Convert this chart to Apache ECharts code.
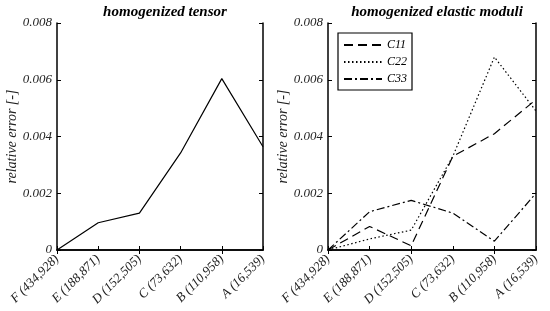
<!DOCTYPE html>
<html>
<head>
<meta charset="utf-8">
<script src="https://cdn.jsdelivr.net/npm/echarts@6/dist/echarts.min.js"></script>
<style>
  html, body { margin: 0; padding: 0; background: #fff; }
  #chart { width: 550px; height: 311px; }
</style>
</head>
<body>
<div id="chart"></div>
<script>
var categories = ['F (434,928)', 'E (188,871)', 'D (152,505)', 'C (73,632)', 'B (110,958)', 'A (16,539)'];
var tensorErr = [0, 0.00096, 0.0013, 0.00342, 0.00604, 0.00364];
var c11 = [0, 0.00083, 0.00015, 0.0033, 0.0041, 0.0053];
var c22 = [0, 0.00039, 0.0007, 0.0033, 0.0068, 0.0049];
var c33 = [0, 0.00135, 0.00175, 0.0013, 0.00031, 0.002];

var font = 'Liberation Serif';

function xAxisFor(grid, top) {
	return {
		type: 'category',
		gridIndex: grid,
		position: top ? 'top' : 'bottom',
		data: categories,
		boundaryGap: false,
		axisLine: { lineStyle: { color: '#000', width: 1.5 } },
		axisTick: { inside: true, length: 4, lineStyle: { color: '#000' } },
		axisLabel: top ? { show: false } : {
			rotate: 45, color: '#222', fontFamily: font, fontStyle: 'italic', fontSize: 13, margin: 7
		},
		splitLine: { show: false }
	};
}
function yAxisFor(grid, right) {
	return {
		type: 'value',
		gridIndex: grid,
		position: right ? 'right' : 'left',
		min: 0, max: 0.008, interval: 0.002,
		name: right ? '' : 'relative error [-]',
		nameLocation: 'middle',
		nameGap: 38,
		nameTextStyle: { fontFamily: font, fontStyle: 'italic', fontSize: 14, color: '#222' },
		axisLine: { show: true, lineStyle: { color: '#000', width: 1.5 } },
		axisTick: { show: true, inside: true, length: 4, lineStyle: { color: '#000' } },
		axisLabel: right ? { show: false } : {
			color: '#222', fontFamily: font, fontStyle: 'italic', fontSize: 13, margin: 5,
			formatter: function (v) { return v === 0 ? '0' : v.toFixed(3); }
		},
		splitLine: { show: false }
	};
}
function line(name, data, xi, yi, type) {
	return {
		name: name, type: 'line', data: data,
		xAxisIndex: xi, yAxisIndex: yi,
		symbol: 'none', animation: false,
		lineStyle: { color: '#000', width: 1.2, type: type },
		itemStyle: { color: '#000' }
	};
}

var chart = echarts.init(document.getElementById('chart'));
chart.setOption({
	animation: false,
	title: [
		{ text: 'homogenized tensor', left: 160, top: 0, textAlign: 'center',
		  textStyle: { fontFamily: font, fontStyle: 'italic', fontWeight: 'bold', fontSize: 15, color: '#000' } },
		{ text: 'homogenized elastic moduli', left: 432, top: 0, textAlign: 'center',
		  textStyle: { fontFamily: font, fontStyle: 'italic', fontWeight: 'bold', fontSize: 15, color: '#000' } }
	],
	grid: [
		{ left: 57, right: 287, top: 23, bottom: 61 },
		{ left: 328, right: 14, top: 23, bottom: 61 }
	],
	xAxis: [xAxisFor(0, false), xAxisFor(0, true), xAxisFor(1, false), xAxisFor(1, true)],
	yAxis: [yAxisFor(0, false), yAxisFor(0, true), yAxisFor(1, false), yAxisFor(1, true)],
	legend: {
		data: ['C11', 'C22', 'C33'],
		orient: 'vertical',
		left: 338, top: 33,
		itemWidth: 38, itemHeight: 12, itemGap: 5,
		padding: [6, 5, 5, 5],
		borderColor: '#000', borderWidth: 1.2,
		itemStyle: { opacity: 0 },
		textStyle: { fontFamily: font, fontStyle: 'italic', fontSize: 12, color: '#000' }
	},
	series: [
		line('tensor', tensorErr, 0, 0, 'solid'),
		line('C11', c11, 2, 2, [9, 5]),
		line('C22', c22, 2, 2, [1.5, 2.5]),
		line('C33', c33, 2, 2, [8, 3, 2, 3])
	]
});
</script>
</body>
</html>
